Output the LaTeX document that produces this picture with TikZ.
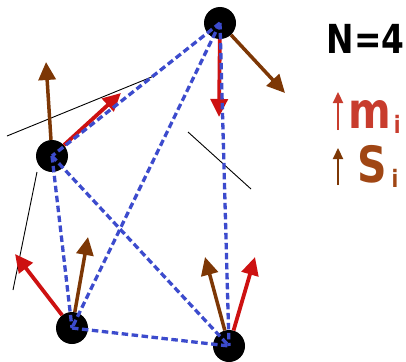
\documentclass[tikz,border=0pt]{standalone}
\usepackage{fontspec}
\usepackage{tikz}
\usetikzlibrary{arrows.meta}
\newfontfamily\lblfont{DejaVu Sans}[FakeStretch=0.82]
\definecolor{spinblue}{HTML}{3C4BCD}
\definecolor{spinred}{HTML}{CD1111}
\definecolor{spinbrown}{HTML}{7D3705}
\definecolor{legred}{HTML}{C83C2D}
\definecolor{legbrown}{HTML}{A04614}

\begin{document}
\begin{tikzpicture}[x=1pt,y=-1pt]
  \tikzstyle{dot}=[circle, fill=black, minimum size=32pt, inner sep=0pt]
  \tikzstyle{link}=[draw=spinblue, line width=3.3pt, dash pattern=on 6.5pt off 3.5pt]
  \tikzstyle{marrow}=[-{Triangle[length=18pt,width=17pt]}, draw=spinred, fill=spinred, line width=3.8pt]
  \tikzstyle{sarrow}=[-{Triangle[length=18pt,width=17pt]}, draw=spinbrown, fill=spinbrown, line width=3.5pt]
  \tikzstyle{legarrow}=[-{Triangle[length=11pt,width=10pt]}, line width=2.2pt]
  \tikzstyle{thin}=[draw=black, line width=0.9pt]
  \tikzstyle{legend}=[inner sep=0pt, font=\lblfont\bfseries\fontsize{50}{50}\selectfont]

  \path[use as bounding box] (0,0) rectangle (406,361);

  % thin guide lines
  \draw[thin] (7,136) -- (154,76);
  \draw[thin] (188,132) -- (251,189);
  \draw[thin] (37,172) -- (13,290);

  \node[dot] (topdot) at (220,23) {};
  \node[dot] (leftdot) at (52,156) {};
  \node[dot] (bldot) at (72,328) {};
  \node[dot] (brdot) at (229,346) {};

  \coordinate (mtop) at (219,117);
  \coordinate (mleft) at (121,93);
  \coordinate (mbl) at (15,254);
  \coordinate (mbr) at (255,257);
  \coordinate (stop) at (285,93);
  \coordinate (sleft) at (46,62);
  \coordinate (sbl) at (88,237);
  \coordinate (sbr) at (205,257);

  \draw[marrow] (topdot) -- (mtop);
  \draw[marrow] (leftdot) -- (mleft);
  \draw[marrow] (bldot) -- (mbl);
  \draw[marrow] (brdot) -- (mbr);
  \draw[sarrow] (topdot) -- (stop);
  \draw[sarrow] (leftdot) -- (sleft);
  \draw[sarrow] (bldot) -- (sbl);
  \draw[sarrow] (brdot) -- (sbr);

  % all pairs
  \draw[link] (topdot.center) -- (leftdot.center);
  \draw[link] (topdot.center) -- (bldot.center);
  \draw[link] (topdot.center) -- (brdot.center);
  \draw[link] (leftdot.center) -- (bldot.center);
  \draw[link] (leftdot.center) -- (brdot.center);
  \draw[link] (bldot.center) -- (brdot.center);

  % legend
  \node[inner sep=0pt, font=\lblfont\bfseries\fontsize{40}{40}\selectfont] (count) at (365.5,38.5) {N=4};
  \coordinate (mlow) at (338,130);
  \coordinate (mhigh) at (338,92);
  \coordinate (slow) at (338,185);
  \coordinate (shigh) at (338,148);
  \draw[legarrow, draw=legred, fill=legred] (mlow) -- (mhigh);
  \draw[legarrow, draw=spinbrown, fill=spinbrown] (slow) -- (shigh);
  \node[legend, text=legred, anchor=base west] (mlab) at (348,128)
    {m\kern3pt\raisebox{-5pt}{\fontsize{24}{24}\selectfont i}};
  \node[legend, text=legbrown, anchor=base west] (slab) at (357,182)
    {S\kern5pt\raisebox{-5pt}{\fontsize{24}{24}\selectfont i}};
\end{tikzpicture}
\end{document}
